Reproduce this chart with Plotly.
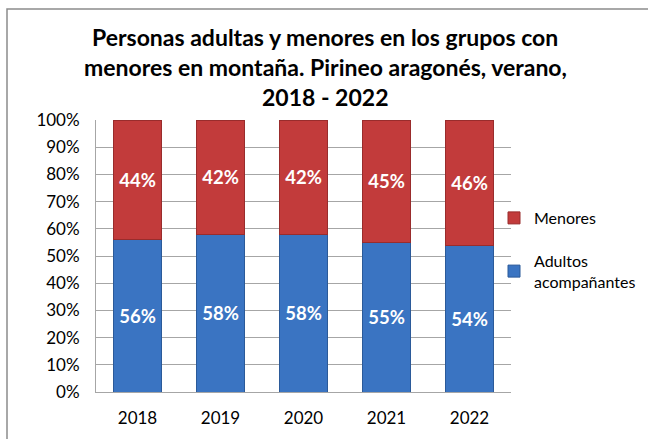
import plotly.graph_objects as go

years = ["2018", "2019", "2020", "2021", "2022"]
adultos = [56, 58, 58, 55, 54]
menores = [44, 42, 42, 45, 46]
title_lines = [
    "Personas adultas y menores en los grupos con",
    "menores en montaña. Pirineo aragonés, verano,",
    "2018 - 2022",
]

FONT = "Lato"
# plot area in pixels (from the reference)
PL, PR, PT, PB = 96, 511, 120, 392
PW, PH = PR - PL, PB - PT

fig = go.Figure()
fig.add_trace(go.Bar(
    x=years, y=adultos, name="Adultos<br>acompañantes",
    legendgroup="a", legendrank=2,
    marker=dict(color="#3a74c2", line=dict(color="#2b5a99", width=1)),
    text=[f"{v}%" for v in adultos], textposition="inside",
    insidetextanchor="middle",
    textfont=dict(family=FONT, size=18.5, color="white", weight="bold"),
))
fig.add_trace(go.Bar(
    x=years, y=menores, name="Menores",
    legendgroup="m", legendrank=1,
    marker=dict(color="#c23b3b", line=dict(color="#992c2c", width=1)),
    text=[f"{v}%" for v in menores], textposition="inside",
    insidetextanchor="middle",
    textfont=dict(family=FONT, size=18.5, color="white", weight="bold"),
))

fig.update_layout(
    width=648, height=439,
    barmode="stack", bargap=0.42,
    margin=dict(l=PL, r=648 - PR, t=PT, b=439 - PB, autoexpand=False),
    paper_bgcolor="white", plot_bgcolor="white",
    font=dict(family=FONT, size=17, color="black"),
    legend=dict(
        xref="container", yref="container",
        x=494 / 648, xanchor="left", y=1 - 201 / 439, yanchor="top",
        traceorder="grouped", font=dict(family=FONT, size=16),
        tracegroupgap=19, bgcolor="rgba(0,0,0,0)",
    ),
    showlegend=True,
    uniformtext=dict(mode="show", minsize=10),
)
for i, line in enumerate(title_lines):
    fig.add_annotation(
        text=f"<b>{line}</b>", xref="paper", yref="paper",
        x=(325 - PL) / PW, y=(PB - (37 + 30 * i)) / PH,
        xanchor="center", yanchor="middle", showarrow=False,
        font=dict(family=FONT, size=23, color="black"),
    )
fig.update_yaxes(
    range=[0, 100], dtick=10, ticksuffix="%", automargin=False,
    showgrid=True, gridcolor="#a6a6a6", gridwidth=1,
    showline=True, linecolor="#a6a6a6", zeroline=False,
    ticks="", ticklabelstandoff=12,
)
fig.update_xaxes(
    showline=True, linecolor="#a6a6a6", ticks="", automargin=False,
    ticklabelstandoff=11,
)
fig.add_shape(
    type="rect", xref="paper", yref="paper",
    x0=(7 - PL) / PW, x1=(660 - PL) / PW,
    y0=(PB - 450) / PH, y1=(PB - 9) / PH,
    line=dict(color="#8c8c8c", width=1.5), layer="below",
)

fig.write_html("out.html", config={"displayModeBar": False},
               post_script="document.body.style.margin='0';")
